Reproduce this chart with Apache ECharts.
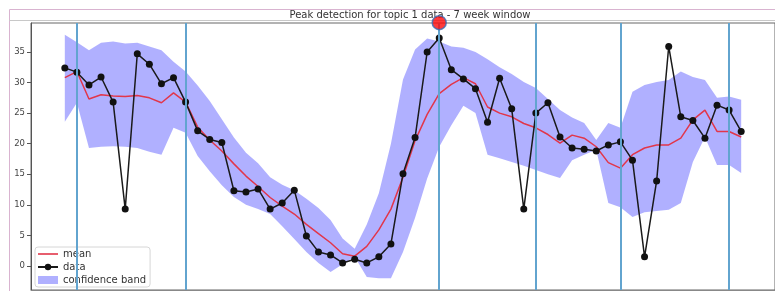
<!DOCTYPE html>
<html>
<head>
<meta charset="utf-8">
<script src="https://cdn.jsdelivr.net/npm/echarts@6/dist/echarts.min.js"></script>
<style>
    html, body { margin: 0; padding: 0; background: #fff; }
    #peak-chart { width: 775px; height: 291px; }
</style>
</head>
<body>
<div id="peak-chart"></div>
<script>
// week index of each observation
var weeks = [0, 1, 2, 3, 4, 5, 6, 7, 8, 9, 10, 11, 12, 13, 14, 15, 16, 17, 18, 19,
    20, 21, 22, 23, 24, 25, 26, 27, 28, 29, 30, 31, 32, 33, 34, 35, 36, 37, 38, 39,
    40, 41, 42, 43, 44, 45, 46, 47, 48, 49, 50, 51, 52, 53, 54, 55, 56];

var dataValues = [32.4, 31.7, 29.6, 30.9, 26.8, 9.3, 34.7, 33.0, 29.8, 30.8,
    26.8, 22.1, 20.7, 20.2, 12.3, 12.1, 12.6, 9.3, 10.3, 12.4,
    4.9, 2.3, 1.8, 0.5, 1.1, 0.5, 1.5, 3.6, 15.1, 21.0,
    35.0, 37.3, 32.1, 30.6, 29.0, 23.5, 30.7, 25.7, 9.3, 25.0,
    26.7, 21.1, 19.3, 19.1, 18.8, 19.8, 20.3, 17.3, 1.5, 13.9,
    35.9, 24.4, 23.8, 20.9, 26.3, 25.5, 22.0];

var meanValues = [30.8, 31.8, 27.3, 28.0, 27.8, 27.7, 27.9, 27.5, 26.7, 28.3,
    26.8, 22.7, 20.6, 18.8, 16.7, 14.7, 13.0, 11.2, 9.8, 8.5,
    6.8, 5.3, 3.8, 2.0, 1.6, 3.2, 5.9, 9.3, 14.5, 20.5,
    24.8, 28.2, 29.7, 30.8, 29.8, 26.0, 25.0, 24.4, 23.3, 22.6,
    21.5, 20.1, 21.4, 20.9, 19.5, 16.9, 16.0, 18.2, 19.3, 19.8,
    19.8, 20.9, 23.9, 25.5, 22.0, 22.0, 21.1];

var upperValues = [37.8, 36.6, 35.3, 36.5, 36.7, 36.4, 36.5, 35.9, 35.3, 33.4,
    31.8, 29.5, 27.0, 24.0, 21.0, 18.5, 16.8, 14.5, 13.3, 12.4,
    11.0, 9.5, 7.5, 4.5, 2.8, 6.8, 11.9, 20.0, 30.5, 35.4,
    37.2, 36.7, 35.9, 35.7, 35.0, 33.8, 32.5, 31.4, 30.1, 29.1,
    27.3, 25.5, 24.3, 23.4, 20.6, 23.4, 22.6, 28.5, 29.6, 30.1,
    30.4, 31.8, 30.9, 30.4, 27.5, 27.7, 27.2];

var lowerValues = [23.6, 26.7, 19.3, 19.5, 19.6, 19.5, 19.3, 18.7, 18.2, 22.6,
    21.8, 18.0, 15.5, 13.2, 11.3, 10.0, 9.3, 8.5, 6.5, 4.4,
    2.3, 0.5, -1.0, 0.3, 1.5, -1.8, -2.0, -2.0, 2.3, 7.9,
    14.3, 19.5, 23.0, 26.2, 25.0, 18.2, 17.6, 17.0, 16.4, 15.7,
    15.0, 14.4, 17.3, 18.2, 19.0, 10.3, 9.6, 8.0, 8.8, 9.0,
    9.2, 10.3, 17.0, 21.1, 16.5, 16.5, 15.2];

// detected change points and the peak
var changeWeeks = [1, 10, 31, 39, 46, 55];
var peakWeek = [31];
var peakValue = [39.8];

var yTicks = [0, 5, 10, 15, 20, 25, 30, 35];

var pairs = function (xs, ys) {
    var out = [];
    for (var i = 0; i < xs.length; i++) {
        out.push([xs[i], ys[i]]);
    }
    return out;
};

var bandRows = [];
for (var i = 0; i < weeks.length; i++) {
    bandRows.push([weeks[i], lowerValues[i], upperValues[i]]);
}

var markLines = [];
for (var j = 0; j < changeWeeks.length; j++) {
    markLines.push({ xAxis: changeWeeks[j] });
}

var bandColor = 'rgba(40,40,255,0.37)';

// one polygon: upper edge left->right, lower edge right->left
var renderBand = function (params, api) {
    if (params.dataIndex !== 0) {
        return;
    }
    var pts = [];
    for (var k = 0; k < bandRows.length; k++) {
        pts.push(api.coord([bandRows[k][0], bandRows[k][2]]));
    }
    for (var m = bandRows.length - 1; m >= 0; m--) {
        pts.push(api.coord([bandRows[m][0], bandRows[m][1]]));
    }
    return {
        type: 'polygon',
        shape: { points: pts },
        style: { fill: bandColor, stroke: 'none' },
        silent: true
    };
};

var myChart = echarts.init(document.getElementById('peak-chart'));

var option = {
    animation: false,
    textStyle: { fontFamily: 'DejaVu Sans' },
    title: {
        text: 'Peak detection for topic 1 data - 7 week window',
        left: 405,
        textAlign: 'center',
        top: 5,
        textStyle: { fontSize: 10, fontWeight: 'normal', color: '#333' }
    },
    graphic: [
        {
            type: 'rect',
            shape: { x: 9.5, y: 9.5, width: 800, height: 300 },
            style: { fill: 'none', stroke: '#d9b3d0', lineWidth: 1 },
            silent: true
        },
        {
            type: 'line',
            shape: { x1: 9, y1: 20.5, x2: 775, y2: 20.5 },
            style: { stroke: '#c8c8c8', lineWidth: 1 },
            silent: true
        }
    ],
    legend: {
        orient: 'vertical',
        left: 35,
        top: 247,
        itemWidth: 20,
        itemHeight: 8,
        itemGap: 3,
        padding: [2, 4, 2, 2],
        backgroundColor: 'rgba(255,255,255,0.85)',
        borderColor: '#d6d6d6',
        borderWidth: 1,
        borderRadius: 3,
        textStyle: { fontSize: 10, color: '#333', lineHeight: 10 },
        data: [
            { name: 'mean', icon: 'path://M0,0 H20 V1.6 H0 Z' },
            { name: 'data' },
            { name: 'confidence band', icon: 'rect' }
        ]
    },
    grid: {
        left: 31,
        top: 23,
        right: -4,
        bottom: 1,
        show: true,
        borderColor: '#666',
        borderWidth: 1
    },
    xAxis: {
        type: 'value',
        min: -2.8,
        max: 58.8,
        axisLine: { show: true, onZero: false, lineStyle: { color: '#888' } },
        axisTick: { show: false },
        axisLabel: { show: false },
        splitLine: { show: false }
    },
    yAxis: {
        type: 'value',
        min: -3.93,
        max: 39.74,
        axisLine: { show: true, onZero: false, lineStyle: { color: '#555' } },
        axisTick: {
            show: true,
            customValues: yTicks,
            length: 4,
            lineStyle: { color: '#555' }
        },
        axisLabel: {
            customValues: yTicks,
            fontSize: 8.5,
            color: '#444',
            margin: 6
        },
        splitLine: { show: false }
    },
    series: [
        {
            name: 'confidence band',
            type: 'custom',
            renderItem: renderBand,
            data: bandRows,
            encode: { x: 0, y: [1, 2] },
            itemStyle: { color: bandColor },
            silent: true,
            z: 1
        },
        {
            name: 'mean',
            type: 'line',
            data: pairs(weeks, meanValues),
            symbol: 'none',
            lineStyle: { color: '#e2364a', width: 1.5 },
            itemStyle: { color: '#e2364a' },
            z: 3
        },
        {
            name: 'data',
            type: 'line',
            data: pairs(weeks, dataValues),
            symbol: 'circle',
            symbolSize: 7,
            lineStyle: { color: '#1a1a1a', width: 1.5 },
            itemStyle: { color: '#111' },
            markLine: {
                silent: true,
                symbol: 'none',
                label: { show: false },
                lineStyle: { color: '#62a4cf', width: 2, type: 'solid' },
                data: markLines
            },
            z: 4
        },
        {
            name: 'peak',
            type: 'scatter',
            data: pairs(peakWeek, peakValue),
            symbolSize: 14,
            clip: false,
            itemStyle: { color: '#ff0a0a', borderColor: '#3a6db5', borderWidth: 1.5 },
            z: 6
        }
    ]
};

myChart.setOption(option);
</script>
</body>
</html>
